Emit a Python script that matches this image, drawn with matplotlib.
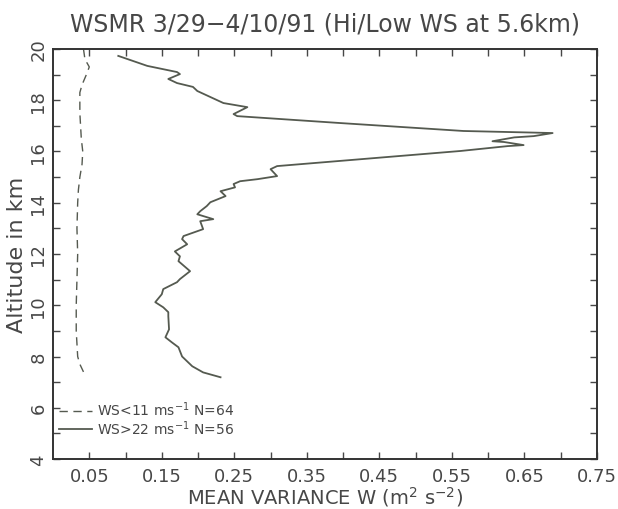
import matplotlib
matplotlib.use("Agg")
import matplotlib.pyplot as plt
from matplotlib.ticker import FixedLocator, NullFormatter

# Mean vertical-velocity variance profiles, low wind-speed days
low_alt = [20.0, 19.6, 19.3, 19.0, 18.6, 18.3, 17.5, 16.5, 16.0, 15.5, 15.0,
           14.5, 14.0, 13.0, 12.0, 11.0, 10.0, 9.0, 8.5, 8.0, 7.7, 7.4]
low_var = [0.042, 0.044, 0.050, 0.046, 0.040, 0.037, 0.037, 0.039, 0.041, 0.040, 0.037,
           0.035, 0.034, 0.033, 0.034, 0.033, 0.032, 0.032, 0.033, 0.034, 0.037, 0.042]

# High wind-speed days
high_alt = [19.73, 19.34, 19.10, 19.02, 18.83, 18.67, 18.52, 18.36, 17.89, 17.73,
            17.46, 17.38, 17.11, 16.80, 16.72, 16.60, 16.55, 16.40, 16.37, 16.25,
            16.21, 16.02, 15.43, 15.31, 15.04, 14.92, 14.84, 14.73, 14.60, 14.45,
            14.26, 14.02, 13.87, 13.67, 13.55, 13.36, 13.28, 12.97, 12.70, 12.58,
            12.38, 12.10, 11.91, 11.72, 11.33, 11.02, 10.90, 10.63, 10.43, 10.12,
            9.92, 9.73, 9.57, 9.06, 8.75, 8.55, 8.36, 8.00, 7.62, 7.38, 7.19]
high_var = [0.090, 0.130, 0.171, 0.175, 0.159, 0.171, 0.193, 0.199, 0.235, 0.268,
            0.249, 0.254, 0.396, 0.566, 0.689, 0.663, 0.636, 0.606, 0.622, 0.649,
            0.627, 0.562, 0.309, 0.300, 0.309, 0.282, 0.258, 0.249, 0.251, 0.231,
            0.238, 0.217, 0.212, 0.203, 0.199, 0.221, 0.203, 0.207, 0.180, 0.178,
            0.185, 0.168, 0.175, 0.173, 0.189, 0.175, 0.171, 0.152, 0.150, 0.141,
            0.152, 0.159, 0.159, 0.160, 0.155, 0.164, 0.173, 0.178, 0.192, 0.207, 0.231]

low_label = r"WS<11 ms$^{-1}$ N=64"
high_label = r"WS>22 ms$^{-1}$ N=56"

x_major = [0.05, 0.15, 0.25, 0.35, 0.45, 0.55, 0.65, 0.75]
x_minor = [0.10, 0.20, 0.30, 0.40, 0.50, 0.60, 0.70]
y_major = [4, 6, 8, 10, 12, 14, 16, 18, 20]
y_minor = [5, 7, 9, 11, 13, 15, 17, 19]

ink = "#474747"
line_col = "#555a50"

plt.rcParams["font.family"] = ["DejaVu Sans"]

fig = plt.figure(figsize=(6.18, 5.10), dpi=100)
ax = fig.add_axes([0.0858, 0.098, 0.880, 0.804])

ax.plot(low_var, low_alt, color=line_col, lw=1.0, dashes=(6, 4), label=low_label)
ax.plot(high_var, high_alt, color=line_col, lw=1.3, label=high_label)

ax.set_xlim(0.0, 0.75)
ax.set_ylim(4, 20)

ax.xaxis.set_major_locator(FixedLocator(x_major))
ax.xaxis.set_minor_locator(FixedLocator(x_minor))
ax.yaxis.set_major_locator(FixedLocator(y_major))
ax.yaxis.set_minor_locator(FixedLocator(y_minor))
ax.xaxis.set_minor_formatter(NullFormatter())
ax.yaxis.set_minor_formatter(NullFormatter())
ax.set_xticklabels([f"{v:.2f}" for v in x_major])
ax.set_yticklabels([str(v) for v in y_major], rotation=90, va="center")

ax.tick_params(which="both", direction="in", top=True, right=True,
               length=5, width=1.0, color=ink, labelcolor=ink, labelsize=13)
ax.tick_params(axis="x", pad=6)
ax.tick_params(axis="y", pad=4)
for s in ax.spines.values():
    s.set_linewidth(1.4)
    s.set_color("#333333")

ax.set_xlabel(r"MEAN VARIANCE W (m$^{2}$ s$^{-2}$)", fontsize=14, color=ink, labelpad=-1)
ax.set_ylabel("Altitude in km", fontsize=16, color=ink, labelpad=2)
ax.set_title("WSMR 3/29\u22124/10/91 (Hi/Low WS at 5.6km)", fontsize=17,
             color=ink, pad=13)

leg = ax.legend(loc="lower left", bbox_to_anchor=(0.0, 0.04), frameon=False,
                fontsize=10, handlelength=2.4, handletextpad=0.4,
                labelspacing=0.0, borderaxespad=0.2, borderpad=0.2)
for t in leg.get_texts():
    t.set_color(ink)

fig.savefig("out.png", dpi=100, facecolor="white")
